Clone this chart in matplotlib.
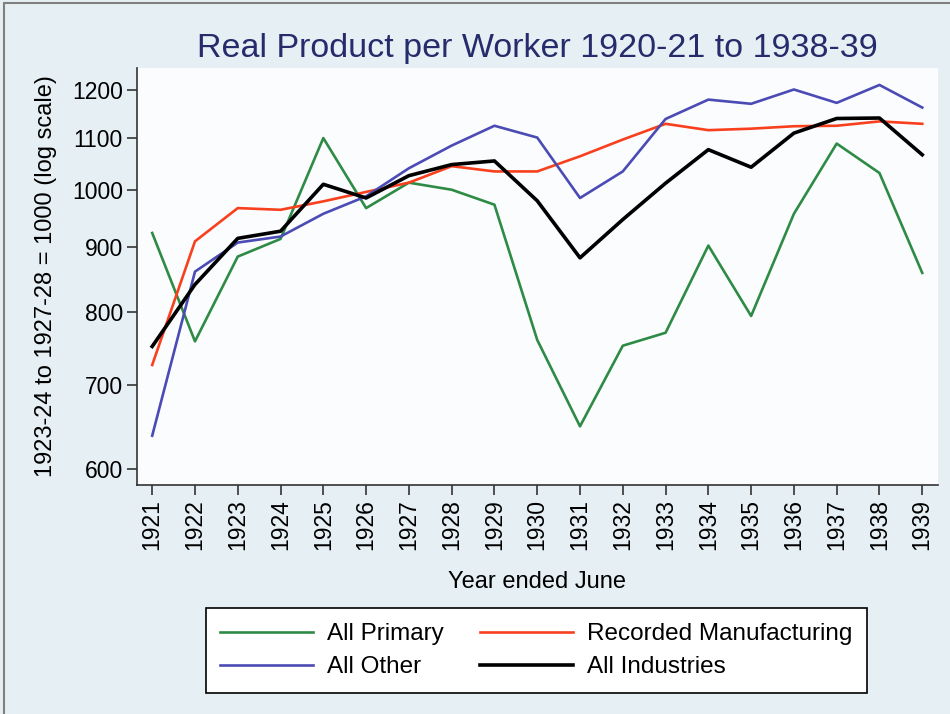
import matplotlib
matplotlib.use("Agg")
import matplotlib.pyplot as plt
from matplotlib.ticker import FixedLocator, NullLocator
from matplotlib.patches import Rectangle

plt.rcParams['font.family'] = ['Liberation Sans', 'DejaVu Sans']

years = list(range(1921, 1940))
all_primary = [924, 758, 885, 914, 1099, 967, 1013, 1000, 973, 760,
               649, 752, 770, 903, 794, 957, 1088, 1031, 859]
recorded_manufacturing = [726, 910, 967, 964, 979, 996, 1013, 1044, 1034, 1034,
                          1063, 1096, 1128, 1115, 1118, 1123, 1124, 1133, 1128]
all_other = [638, 861, 908, 918, 957, 988, 1040, 1084, 1124, 1100,
             985, 1034, 1138, 1179, 1170, 1201, 1172, 1211, 1162]
all_industries = [751, 841, 915, 927, 1010, 985, 1026, 1047, 1054, 980,
                  883, 947, 1012, 1076, 1042, 1109, 1139, 1140, 1066]
y_ticks = [600, 700, 800, 900, 1000, 1100, 1200]

fig = plt.figure(figsize=(9.5, 7.14), dpi=100, facecolor='#e6f0f4')
fig.patches.append(Rectangle((0.004, -0.01), 1.2, 1.0055, transform=fig.transFigure,
                             fill=False, edgecolor='#808080', linewidth=1.5))
ax = fig.add_axes([0.144, 0.3207, 0.843, 0.584])
ax.set_facecolor('#fbfcfd')

l_prim, = ax.plot(years, all_primary, color='#2e8b45', lw=1.9, label='All Primary')
l_manu, = ax.plot(years, recorded_manufacturing, color='#f8401e', lw=1.9,
                  label='Recorded Manufacturing')
l_oth, = ax.plot(years, all_other, color='#4b4bb5', lw=1.9, label='All Other')
l_ind, = ax.plot(years, all_industries, color='black', lw=2.6, label='All Industries')

ax.set_yscale('log')
ax.set_ylim(583, 1249)
ax.set_xlim(1920.64, 1939.36)
ax.yaxis.set_major_locator(FixedLocator(y_ticks))
ax.yaxis.set_minor_locator(NullLocator())
ax.set_yticklabels([str(v) for v in y_ticks])
ax.set_xticks(years)
ax.set_xticklabels([str(y) for y in years], rotation=90)

for s in ['top', 'right']:
    ax.spines[s].set_visible(False)
for s in ['left', 'bottom']:
    ax.spines[s].set_color('#333333')
    ax.spines[s].set_linewidth(1.2)
ax.tick_params(axis='both', direction='out', length=7, width=1.2, color='#333333',
               labelsize=16.5, pad=3)

ax.set_xlabel('Year ended June', fontsize=17, labelpad=15)
ax.set_ylabel('1923-24 to 1927-28 = 1000 (log scale)', fontsize=17, labelpad=11)
ax.set_title('Real Product per Worker 1920-21 to 1938-39', fontsize=24.5,
             color='#252b6b', pad=8)

# column-first fill so rows read: Primary / Manufacturing, Other / Industries
handles = [l_prim, l_oth, l_manu, l_ind]
labels = [h.get_label() for h in handles]
leg = fig.legend(handles, labels, ncol=2, loc='center', bbox_to_anchor=(0.5647, 0.0889),
                 fontsize=17.5, frameon=True, fancybox=False, edgecolor='black',
                 framealpha=1, handlelength=3.8, handletextpad=0.6, columnspacing=1.5,
                 borderpad=0.6, labelspacing=0.45)
leg.get_frame().set_linewidth(1.2)

fig.savefig('out.png', dpi=100, facecolor=fig.get_facecolor())
